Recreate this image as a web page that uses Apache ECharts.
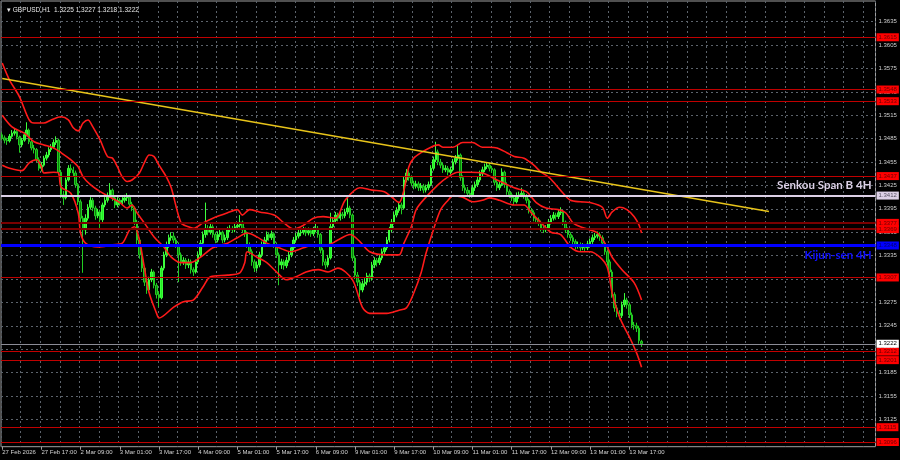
<!DOCTYPE html>
<html>
<head>
<meta charset="utf-8">
<title>GBPUSD H1</title>
<script src="https://cdn.jsdelivr.net/npm/echarts@6/dist/echarts.min.js"></script>
<style>
  html, body { margin: 0; padding: 0; background: #000; }
  #chart { width: 900px; height: 460px; }
</style>
</head>
<body>
<div id="chart"></div>
<script>
// prices kept as pips above 1.3000 (486 -> 1.3486)
const opens = [
  490,486,483,482,488,492,494,487,477,483, 490,496,481,473,471,458,447,451,460,464,
  471,474,480,483,442,413,409,432,447,445, 441,426,404,383,368,383,397,406,396,386,
  391,381,400,406,412,419,409,400,406,403, 406,409,410,401,396,378,355,336,319,301,
  291,304,314,297,285,281,319,336,349,358, 360,355,349,336,327,329,323,327,317,314,
  327,336,351,362,370,365,372,362,355,362, 365,355,358,368,370,368,372,374,378,368,
  363,349,340,327,319,323,336,349,355,362, 358,363,349,336,323,327,322,329,336,345,
  355,360,364,365,368,364,367,363,368,370, 362,342,327,323,332,372,380,387,383,388,
  386,391,396,387,332,310,301,291,299,301, 309,306,323,329,326,332,340,345,355,368,
  378,387,393,400,396,432,441,435,428,424, 427,422,424,419,422,426,447,458,468,455,
  451,445,447,442,445,455,460,464,435,422, 419,415,413,422,426,432,440,445,449,451,
  447,445,429,422,426,442,426,417,413,409, 404,412,413,415,412,406,393,390,383,381,
  377,370,368,370,378,383,387,385,390,391, 378,368,362,358,353,347,349,345,347,345,
  350,353,358,360,362,358,351,340,327,314, 285,268,261,258,272,278,272,259,246,245,
  242,225
]
const closes = [
  486,483,482,488,492,494,487,477,483,490, 496,481,473,471,458,447,451,460,464,471,
  474,480,483,442,413,409,432,447,445,441, 426,404,383,368,383,397,406,396,386,391,
  381,400,406,412,419,409,400,406,403,406, 409,410,401,396,378,355,336,319,301,291,
  304,314,297,285,281,319,336,349,358,360, 355,349,336,327,329,323,327,317,314,327,
  336,351,362,370,365,372,362,355,362,365, 355,358,368,370,368,372,374,378,368,363,
  349,340,327,319,323,336,349,355,362,358, 363,349,336,323,327,322,329,336,345,355,
  360,364,365,368,364,367,363,368,370,362, 342,327,323,332,372,380,387,383,388,386,
  391,396,387,332,310,301,291,299,301,309, 306,323,329,326,332,340,345,355,368,378,
  387,393,400,396,432,441,435,428,424,427, 422,424,419,422,426,447,458,468,455,451,
  445,447,442,445,455,460,464,435,422,419, 415,413,422,426,432,440,445,449,451,447,
  445,429,422,426,442,426,417,413,409,404, 412,413,415,412,406,393,390,383,381,377,
  370,368,370,378,383,387,385,390,391,378, 368,362,358,353,347,349,345,347,345,350,
  353,358,360,362,358,351,340,327,314,285, 268,261,258,272,278,272,259,246,245,242,
  226,222
]
const highs = [
  493,489,486,491,496,498,496,489,486,493, 506,498,484,477,473,461,455,463,468,474,
  478,484,488,485,445,418,435,451,452,449, 444,428,407,386,388,401,410,409,399,395,
  394,403,410,416,428,421,412,410,409,410, 413,415,413,404,398,381,358,339,322,305,
  308,318,316,300,289,322,340,353,362,365, 365,358,352,339,333,332,331,330,320,330,
  340,355,366,403,374,376,375,365,366,369, 367,362,372,374,373,376,378,387,380,371,
  366,352,343,330,327,340,353,359,366,365, 367,365,352,339,331,330,333,340,349,359,
  364,368,369,372,371,371,370,372,378,373, 364,345,331,336,390,384,391,390,392,391,
  395,410,399,389,335,314,304,303,306,313, 312,327,333,332,336,344,349,359,372,382,
  391,397,404,403,436,446,444,438,431,431, 430,428,427,426,430,451,462,481,471,459,
  454,451,450,449,459,464,477,466,438,426, 423,419,426,430,436,444,449,453,455,454,
  450,447,432,430,447,444,429,420,416,412, 416,417,422,418,414,408,396,393,386,384,
  380,373,374,382,387,391,390,394,397,393, 380,371,365,361,356,353,352,351,350,354,
  357,362,364,366,365,361,354,343,330,317, 288,272,265,276,287,281,275,262,250,249,
  245,227
]
const lows = [
  483,479,477,480,486,489,484,467,474,481, 488,478,470,466,455,444,443,449,457,461,
  468,472,477,438,409,400,407,430,441,437, 422,400,378,313,362,380,394,392,381,383,
  368,378,397,403,409,405,396,397,399,400, 403,405,397,392,374,350,331,314,296,286,
  288,301,293,280,269,279,316,333,345,354, 351,345,301,322,323,318,319,312,309,312,
  324,333,348,358,361,362,358,351,352,359, 351,352,355,365,364,365,369,371,364,359,
  345,336,322,314,315,320,333,346,352,354, 355,345,332,297,318,317,319,326,333,342,
  352,357,360,362,360,361,359,360,365,358, 338,322,318,320,330,368,376,379,380,382,
  383,388,383,328,305,296,282,288,295,297, 301,303,319,321,323,329,336,342,352,365,
  375,384,390,388,394,429,431,424,420,421, 418,418,415,416,419,424,444,455,451,447,
  441,442,438,439,443,452,457,431,418,415, 411,409,410,418,423,429,437,442,446,443,
  441,425,418,419,424,422,413,409,405,400, 402,408,410,408,402,389,386,379,377,373,
  366,364,365,367,375,380,381,382,387,374, 364,358,354,349,343,344,341,342,341,342,
  347,350,355,357,354,347,336,322,309,281, 263,256,253,255,269,267,255,242,240,237,
  222,218
]

// Bollinger bands: [bar index, pips above 1.3000]
const bbUpper = [[0,582],[3,560],[7,539],[11,509],[13,505],[17,505],[20,509],[24,513],[27,509],[29,499],[31,495],[33,505],[35,509],[37,500],[40,483],[43,462],[45,460],[47,449],[49,436],[51,430],[53,432],[56,441],[58,454],[60,464],[62,462],[64,451],[67,436],[69,422],[73,377],[76,372],[78,370],[82,377],[86,383],[92,390],[96,394],[98,387],[101,394],[105,391],[111,387],[115,377],[119,369],[123,374],[127,383],[131,385],[136,383],[140,406],[146,422],[151,419],[156,417],[159,410],[162,403],[164,419],[166,449],[168,460],[171,467],[175,474],[178,477],[180,474],[184,474],[188,480],[192,480],[196,474],[199,474],[202,473],[206,467],[209,462],[213,460],[217,451],[220,442],[223,436],[226,426],[229,415],[232,406],[236,404],[240,403],[245,397],[247,383],[249,391],[252,397],[255,394],[258,385],[260,374],[261,364]]
const bbMiddle = [[0,515],[4,500],[9,492],[13,481],[17,477],[21,473],[24,467],[28,458],[31,449],[33,436],[36,426],[40,417],[44,410],[48,403],[51,396],[53,400],[55,390],[58,377],[62,359],[66,346],[69,333],[73,326],[77,326],[81,333],[86,345],[92,351],[96,358],[100,364],[104,359],[108,351],[113,345],[118,340],[123,345],[127,349],[133,349],[137,355],[142,362],[146,353],[150,340],[157,336],[162,336],[164,351],[167,372],[169,394],[173,410],[178,426],[182,436],[186,442],[191,442],[196,441],[202,432],[209,422],[214,417],[218,403],[222,396],[227,394],[230,390],[233,377],[236,372],[240,368],[243,364],[247,346],[249,333],[253,317],[258,300],[261,278]]
const bbLower = [[0,451],[3,447],[8,444],[11,454],[14,458],[16,449],[17,441],[21,442],[23,441],[24,423],[28,415],[31,390],[32,364],[34,351],[39,346],[45,349],[49,351],[52,368],[54,372],[56,355],[58,320],[60,287],[63,261],[64,255],[70,269],[74,276],[78,278],[82,295],[85,308],[92,310],[97,313],[99,326],[100,340],[104,333],[108,326],[112,314],[116,304],[120,308],[124,314],[129,317],[133,314],[137,319],[143,304],[147,269],[150,261],[157,261],[162,265],[165,268],[168,287],[171,313],[173,338],[176,368],[179,394],[182,406],[184,412],[188,410],[192,404],[196,406],[199,409],[203,406],[209,400],[213,400],[216,390],[220,377],[224,365],[228,362],[232,346],[236,340],[240,340],[244,333],[247,320],[249,287],[251,265],[253,249],[256,231],[259,210],[261,192]]
const trendLine = [[0,562],[313,391.5]]

const timeLabels = ['27 Feb 2026','27 Feb 17:00','2 Mar 09:00','3 Mar 01:00','3 Mar 17:00','4 Mar 09:00','5 Mar 01:00','5 Mar 17:00','6 Mar 09:00','9 Mar 01:00','9 Mar 17:00','10 Mar 09:00','11 Mar 01:00','11 Mar 17:00','12 Mar 09:00','13 Mar 01:00','13 Mar 17:00']
const priceTicks = [1.3125,1.3155,1.3185,1.3215,1.3245,1.3275,1.3305,1.3335,1.3365,1.3395,1.3425,1.3455,1.3485,1.3515,1.3545,1.3575,1.3605,1.3635]

const redLevels = [1.3615,1.3548,1.3533,1.3437,1.3307,1.3212,1.3201,1.3115,1.3096]
const darkRedLevels = [1.3377,1.3369]
const senkouB4H = 1.3412
const kijun4H = 1.3348

const SLOTS = 357
const toPrice = (v) => +(1.3 + v / 10000).toFixed(5)
const fmt = (v) => v.toFixed(4)
const last = closes.length - 1

const categories = Array.from({ length: SLOTS }, (_, i) => i)
const candles = opens.map((o, i) => [toPrice(o), toPrice(closes[i]), toPrice(lows[i]), toPrice(highs[i])])
const band = (pts) => pts.map(([i, v]) => [i, toPrice(v)])

const boxLabel = (bg, fg) => ({
  show: true, position: 'end', distance: 1,
  formatter: (p) => fmt(p.value),
  backgroundColor: bg, color: fg,
  fontSize: 6, fontFamily: 'Liberation Sans', lineHeight: 7, padding: [1, 2, 0, 2]
})
const hLine = (v, color, width, bg, fg) => ({
  yAxis: v, lineStyle: { color, width, type: 'solid' }, label: boxLabel(bg, fg)
})
const tagLine = (v, text, color, position) => ({
  yAxis: v,
  lineStyle: { color: 'rgba(0,0,0,0)', width: 0 },
  label: {
    show: true, position, distance: 4, formatter: text, color,
    fontSize: 11.5, fontWeight: 'bold', fontFamily: 'Lato, "Liberation Sans", sans-serif'
  }
})

const levelLines = [
  ...redLevels.map((v) => hLine(v, '#c00000', 1, '#ff0000', '#6a0000')),
  ...darkRedLevels.map((v) => hLine(v, '#7a0000', 2, '#ff0000', '#6a0000')),
  hLine(senkouB4H, '#dcd0e6', 2, '#dcd0e6', '#555060'),
  hLine(kijun4H, '#0000ff', 3, '#0000ff', '#000070'),
  hLine(toPrice(closes[last]), '#8c8c96', 1, '#ffffff', '#000000'),
  tagLine(senkouB4H, 'Senkou Span B 4H', '#dcd0e6', 'insideEndTop'),
  tagLine(kijun4H, 'Kijun-sen 4H', '#1010ff', 'insideEndBottom')
]

const chart = echarts.init(document.getElementById('chart'))
const option = {
  backgroundColor: '#000000',
  animation: false,
  textStyle: { fontFamily: 'Liberation Sans' },
  title: {
    text: '\u25BE GBPUSD,H1  ' + [opens[last], highs[last], lows[last], closes[last]].map((v) => fmt(toPrice(v))).join(' '),
    left: 2, top: 2,
    textStyle: { color: '#e6e6e6', fontSize: 6.5, fontWeight: 'normal', fontFamily: 'Liberation Sans' }
  },
  grid: {
    left: 1, top: 1, width: 874.5, height: 445.7,
    show: true, borderColor: '#a0a0a0', borderWidth: 1, backgroundColor: '#000000',
    outerBoundsMode: 'none', containLabel: false
  },
  xAxis: {
    type: 'category',
    data: categories,
    boundaryGap: true,
    axisLine: { show: false },
    axisTick: {
      show: true, alignWithLabel: true, length: 3,
      interval: (i) => i % 16 === 0 && i / 16 < timeLabels.length,
      lineStyle: { color: '#a0a0a0' }
    },
    axisLabel: {
      show: true, interval: (i) => i % 16 === 0 && i / 16 < timeLabels.length,
      formatter: (v, i) => timeLabels[i / 16] || '',
      align: 'left', color: '#d2d2d2', fontSize: 6, margin: 3
    },
    splitLine: {
      show: true, interval: (i) => i % 8 === 0,
      lineStyle: { color: '#5c636b', type: [2, 3], width: 1 }
    }
  },
  yAxis: {
    type: 'value',
    position: 'right',
    min: 1.3090,
    max: 1.36615,
    scale: true,
    axisLine: { show: false },
    axisTick: { show: false, customValues: priceTicks },
    axisLabel: {
      show: true, customValues: priceTicks, formatter: (v) => fmt(v),
      color: '#cfcfcf', fontSize: 6, margin: 3
    },
    splitLine: { show: true, lineStyle: { color: '#5c636b', type: [2, 3], width: 1 } }
  },
  series: [
    {
      name: 'GBPUSD', type: 'candlestick', data: candles, barWidth: '80%',
      itemStyle: { color: '#22ee22', color0: '#0a800a', borderColor: '#3cff3c', borderColor0: '#22cc22', borderWidth: 1 },
      markLine: { symbol: ['none', 'none'], silent: true, animation: false, precision: 4, data: levelLines }
    },
    { name: 'BB upper', type: 'line', data: band(bbUpper), showSymbol: false, smooth: 0.3, lineStyle: { color: '#ff1a1a', width: 1.6 } },
    { name: 'BB middle', type: 'line', data: band(bbMiddle), showSymbol: false, smooth: 0.3, lineStyle: { color: '#ff1a1a', width: 1.6 } },
    { name: 'BB lower', type: 'line', data: band(bbLower), showSymbol: false, smooth: 0.3, lineStyle: { color: '#ff1a1a', width: 1.6 } },
    { name: 'trend', type: 'line', data: band(trendLine), showSymbol: false, lineStyle: { color: '#e8c41a', width: 1.5 } }
  ]
}
chart.setOption(option)
</script>
</body>
</html>
